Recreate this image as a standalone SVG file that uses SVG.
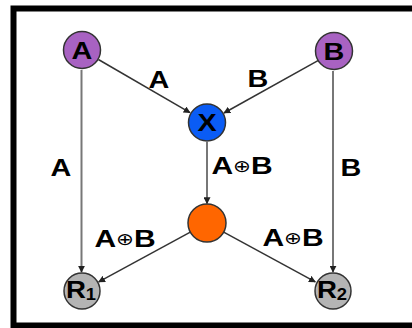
<svg xmlns="http://www.w3.org/2000/svg" width="412" height="328" viewBox="0 0 412 328">
<defs>
<marker id="ah" viewBox="0 0 10 10" refX="9" refY="5" markerWidth="7" markerHeight="7" markerUnits="userSpaceOnUse" orient="auto">
<path d="M0,0 L10,5 L0,10 Z" fill="#222"/>
</marker>
</defs>
<style>
.frame{fill:#fff;stroke:#000;stroke-width:6}
.node{stroke:#333;stroke-width:1.5}
.lbl{font-family:"Liberation Sans",Arial,sans-serif;font-weight:bold;font-size:24px;fill:#000;text-anchor:middle}
.nl{font-family:"Liberation Sans",Arial,sans-serif;font-weight:bold;font-size:24px;fill:#000;text-anchor:middle}
.op{font-family:"DejaVu Sans",sans-serif;font-size:17px;font-weight:normal}
.diag{stroke:#333;stroke-width:1.5;fill:none;marker-end:url(#ah)}
.vert{stroke:#777;stroke-width:2;fill:none;marker-end:url(#ah)}
</style>
<rect class="frame" x="13.5" y="8.5" width="420" height="317"/>
<g id="connectors">
<line class="diag" x1="98.4" y1="59.5" x2="190" y2="112.7"/>
<line class="diag" x1="318.4" y1="60.3" x2="224" y2="113"/>
<line class="vert" x1="81.5" y1="70" x2="81.5" y2="272"/>
<line class="vert" x1="333" y1="71" x2="333" y2="272"/>
<line class="vert" x1="207" y1="142" x2="207" y2="203.5"/>
<line class="diag" x1="190.3" y1="232.1" x2="98.7" y2="281.9"/>
<line class="diag" x1="223.7" y1="232.1" x2="315.3" y2="281.9"/>
<text class="lbl" transform="translate(159 88) scale(1.2 1)">A</text>
<text class="lbl" transform="translate(258 87) scale(1.2 1)">B</text>
<text class="lbl" transform="translate(61 176) scale(1.2 1)">A</text>
<text class="lbl" transform="translate(351 176) scale(1.2 1)">B</text>
<text class="lbl" transform="translate(242 174) scale(1.25 1)">A<tspan class="op" dy="-2">⊕</tspan><tspan dy="2">B</tspan></text>
<text class="lbl" transform="translate(125 247) scale(1.25 1)">A<tspan class="op" dy="-2">⊕</tspan><tspan dy="2">B</tspan></text>
<text class="lbl" transform="translate(293 246) scale(1.25 1)">A<tspan class="op" dy="-2">⊕</tspan><tspan dy="2">B</tspan></text>
</g>
<g id="nodeA"><circle class="node" cx="82" cy="50" r="18.5" fill="#a862c2"/><text class="nl" transform="translate(82 58.5) scale(1.2 1)">A</text></g>
<g id="nodeB"><circle class="node" cx="334" cy="51" r="18.5" fill="#a862c2"/><text class="nl" transform="translate(334 59.5) scale(1.2 1)">B</text></g>
<g id="nodeX"><circle class="node" cx="207" cy="122.5" r="18.5" fill="#0a5cf5"/><text class="nl" transform="translate(207 131) scale(1.2 1)">X</text></g>
<g id="nodeXor"><circle class="node" cx="207" cy="223" r="19" fill="#ff6600"/></g>
<g id="nodeR1"><circle class="node" cx="82" cy="291" r="18" fill="#b4b4b4"/><text class="nl" transform="translate(81 298) scale(1.15 1)" font-size="20">R<tspan font-size="16" dy="2">1</tspan></text></g>
<g id="nodeR2"><circle class="node" cx="333" cy="291" r="18" fill="#b4b4b4"/><text class="nl" transform="translate(332 298) scale(1.15 1)" font-size="20">R<tspan font-size="16" dy="2">2</tspan></text></g>
</svg>
